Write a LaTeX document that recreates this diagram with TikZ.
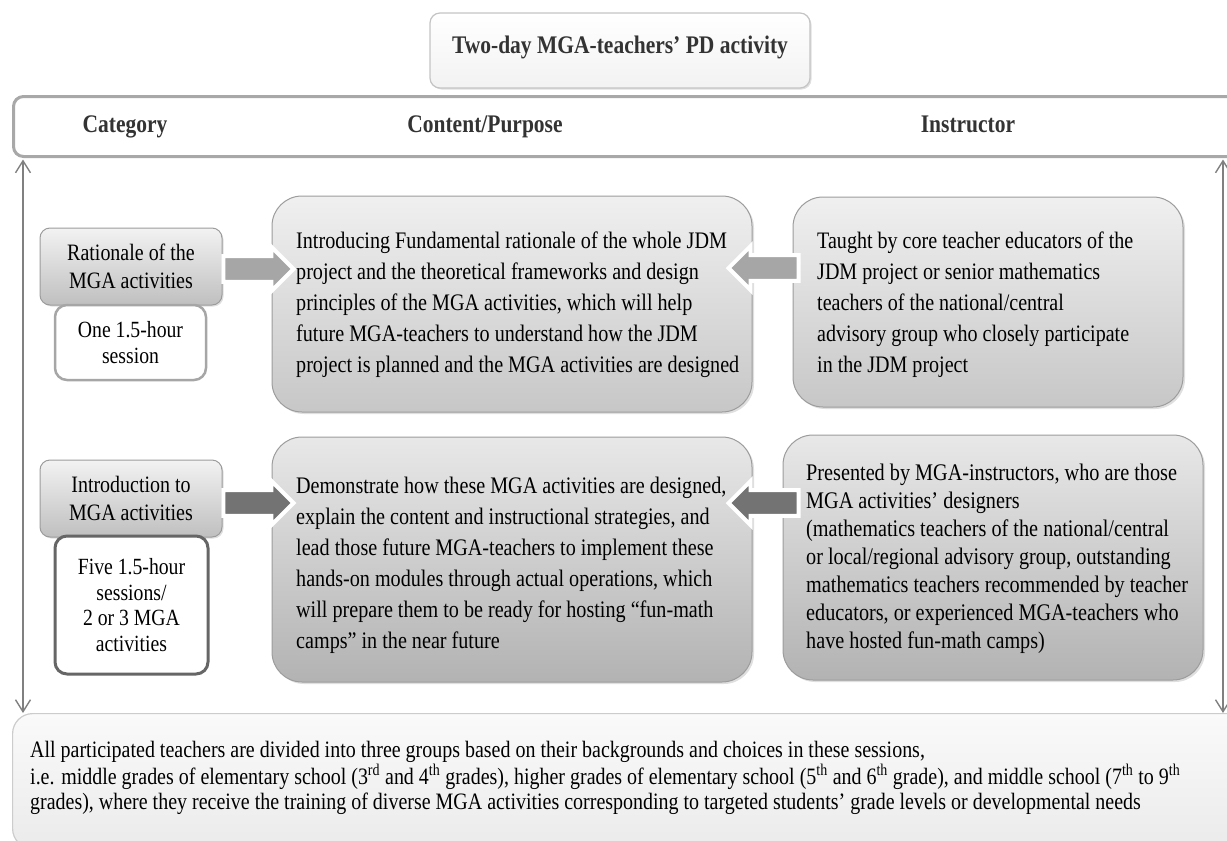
\documentclass[tikz,border=0pt]{standalone}
\usepackage{fontspec}
\setmainfont{Liberation Serif}[FakeStretch=0.85]
\usetikzlibrary{shapes.arrows,shadows,arrows.meta}
\definecolor{hdrline}{HTML}{A8A8A8}
\definecolor{boxline}{HTML}{9C9C9C}
\definecolor{arrowgray}{HTML}{808080}
\definecolor{hdrtext}{HTML}{333333}
\begin{document}
\begin{tikzpicture}[x=1pt,y=-1pt,
  bodytxt/.style={font=\fontsize{23.7}{31}\selectfont, align=left, inner sep=0, anchor=west},
  titlebox/.style={draw=boxline!60, line width=1.2, rounded corners=10, top color=white, bottom color=black!5,
    drop shadow={shadow xshift=1.5pt, shadow yshift=-1.5pt, opacity=0.25}},
  headbox/.style={draw=hdrline, line width=3, rounded corners=10, fill=white},
  headtxt/.style={font=\fontsize{25.3}{28}\selectfont\bfseries, text=hdrtext, anchor=base, inner sep=0},
  catbox/.style={draw=boxline, line width=1, rounded corners=10, top color=black!5, bottom color=black!25,
    drop shadow={shadow xshift=1.5pt, shadow yshift=-1.5pt, opacity=0.25},
    font=\fontsize{23.5}{28}\selectfont, align=center, minimum width=182, minimum height=77, inner sep=0},
  sessbox/.style={draw=#1, fill=white, rounded corners=12, align=center, inner sep=0,
    font=\fontsize{23.2}{25.5}\selectfont},
  contbox/.style={draw=boxline, line width=1, rounded corners=30, top color=black!#1,
    drop shadow={shadow xshift=2pt, shadow yshift=-2pt, opacity=0.25}},
  blockarrow/.style={single arrow, draw=white, line width=4, fill=#1, minimum height=70, minimum width=44,
    inner sep=8, drop shadow={shadow xshift=1pt, shadow yshift=-1pt, opacity=0.2}},
  varrow/.style={draw=arrowgray, line width=1.4, {Straight Barb[length=12pt,width=15pt]}-{Straight Barb[length=12pt,width=15pt]}},
  bottombox/.style={draw=black!20, line width=1.2, rounded corners=20, top color=black!2, bottom color=black!8},
]
\useasboundingbox (0,0) rectangle (1227,841);
\clip (0,0) rectangle (1227,841);

% title
\node[titlebox, minimum width=380, minimum height=75] (title) at (620,50.5) {};
\node[headtxt] (ttxt) at (620,53) {Two-day MGA-teachers' PD activity};

% header band
\node[headbox, anchor=north west, minimum width=1245, minimum height=60] (head) at (12,95) {};
\node[headtxt] (hcat) at (125,132) {Category};
\node[headtxt] (hcon) at (485,132) {Content/Purpose};
\node[headtxt] (hins) at (968,132) {Instructor};

% bottom box
\node[bottombox, anchor=north west, minimum width=1250, minimum height=135] (bottom) at (12,713) {};
\node[anchor=west, align=left, font=\fontsize{23.5}{25.5}\selectfont, inner sep=0] (btxt) at (30,778)
 {All participated teachers are divided into three groups based on their backgrounds and choices in these sessions,\\
  i.e. middle grades of elementary school (3\textsuperscript{rd} and 4\textsuperscript{th} grades), higher grades of elementary school (5\textsuperscript{th} and 6\textsuperscript{th} grade), and middle school (7\textsuperscript{th} to 9\textsuperscript{th}\\
  grades), where they receive the training of diverse MGA activities corresponding to targeted students' grade levels or developmental needs};

% vertical double arrows
\coordinate (vl) at (23,0);
\coordinate (vr) at (1223,0);
\draw[varrow] ([yshift=-1.5pt]head.south -| vl) -- (bottom.north -| vl);
\draw[varrow] ([yshift=-1.5pt]head.south -| vr) -- (bottom.north -| vr);

% row 1
\node[contbox=6, bottom color=black!22, minimum width=480, minimum height=216] (c1) at (512,304) {};
\node[bodytxt] (c1t) at (296,305)
 {Introducing Fundamental rationale of the whole JDM\\
  project and the theoretical frameworks and design\\
  principles of the MGA activities, which will help\\
  future MGA-teachers to understand how the JDM\\
  project is planned and the MGA activities are designed};
\node[contbox=6, bottom color=black!22, minimum width=390, minimum height=210] (i1) at (988,302) {};
\node[bodytxt, font=\fontsize{23.6}{31}\selectfont] (i1t) at (817,305)
 {Taught by core teacher educators of the\\
  JDM project or senior mathematics\\
  teachers of the national/central\\
  advisory group who closely participate\\
  in the JDM project};
\node[catbox] (cat1) at (131,266.5) {Rationale of the\\MGA activities};
\node[sessbox=black!35, line width=2.5, minimum width=151, minimum height=75] (s1) at (130.5,342.5) {One 1.5-hour\\session};
\node[blockarrow=black!35] (a1) at (252,269) {};
\node[blockarrow=black!35, shape border rotate=180] (a2) at (770,268) {};

% row 2
\node[contbox=9, bottom color=black!30, minimum width=480, minimum height=245] (c2) at (512,559.5) {};
\node[bodytxt] (c2t) at (296,565)
 {Demonstrate how these MGA activities are designed,\\
  explain the content and instructional strategies, and\\
  lead those future MGA-teachers to implement these\\
  hands-on modules through actual operations, which\\
  will prepare them to be ready for hosting ``fun-math\\
  camps'' in the near future};
\node[contbox=9, bottom color=black!30, minimum width=420, minimum height=245] (i2) at (993,557.5) {};
\node[bodytxt, font=\fontsize{23.8}{28}\selectfont] (i2t) at (806,559)
 {Presented by MGA-instructors, who are those\\
  MGA activities' designers\\
  (mathematics teachers of the national/central\\
  or local/regional advisory group, outstanding\\
  mathematics teachers recommended by teacher\\
  educators, or experienced MGA-teachers who\\
  have hosted fun-math camps)};
\node[catbox] (cat2) at (131,498.5) {Introduction to\\MGA activities};
\node[sessbox=black!60, line width=3, minimum width=153, minimum height=138] (s2) at (131.5,605) {Five 1.5-hour\\sessions/\\2 or 3 MGA\\activities};
\node[blockarrow=black!55] (a3) at (252,503) {};
\node[blockarrow=black!55, shape border rotate=180] (a4) at (770,503) {};
\end{tikzpicture}
\end{document}
